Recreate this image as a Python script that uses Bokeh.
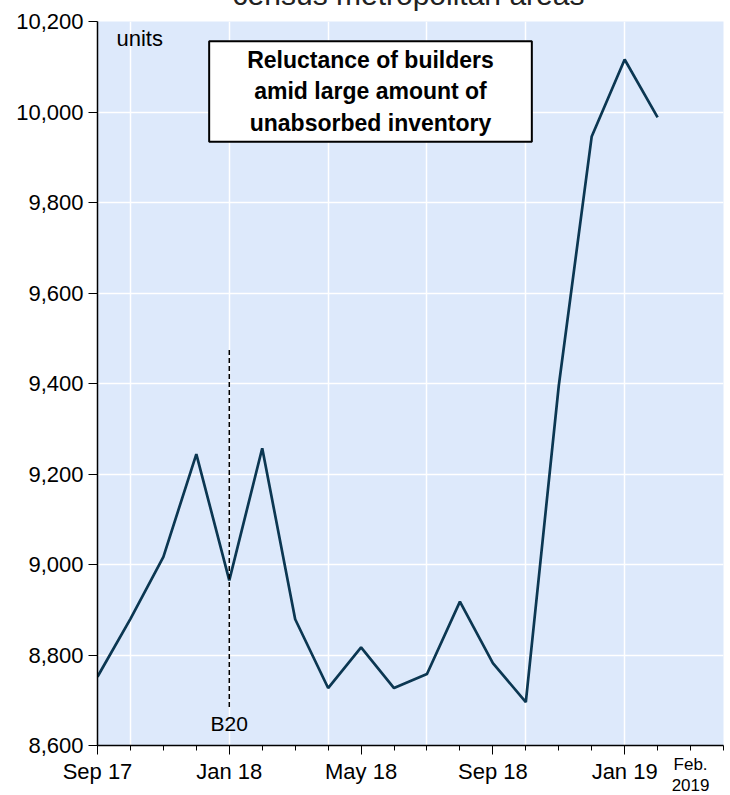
from bokeh.plotting import figure
from bokeh.models import (FixedTicker, NumeralTickFormatter, Label, Range1d)
from bokeh.embed import file_html
from bokeh.resources import INLINE

# ---- data ----
months = ["Sep 17", "Oct 17", "Nov 17", "Dec 17", "Jan 18", "Feb 18", "Mar 18",
          "Apr 18", "May 18", "Jun 18", "Jul 18", "Aug 18", "Sep 18", "Oct 18",
          "Nov 18", "Dec 18", "Jan 19", "Feb 19"]
units = [8752, 8880, 9017, 9244, 8965, 9257, 8879, 8727, 8817, 8727, 8758,
         8918, 8782, 8696, 9395, 9946, 10116, 9988]
tick_labels = ["Sep 17", "Jan 18", "May 18", "Sep 18", "Jan 19"]
y_ticks = [8600, 8800, 9000, 9200, 9400, 9600, 9800, 10000, 10200]
b20_month = "Jan 18"
b20_top = 9475
b20_bottom = 8685
title_text = "census metropolitan areas"
box_text = "Reluctance of builders\namid large amount of\nunabsorbed inventory"

FONT = "Liberation Sans"
x = list(range(len(months)))
n_axis_months = len(months) + 2  # axis runs to Apr 19

TOP = 100      # top border inside the canvas (holds title panel)
SHIFT = 79     # canvas shifted up so the title is cut off as in the reference
p = figure(width=730, height=TOP + 724 + 50, output_backend="svg", toolbar_location=None,
           x_range=Range1d(0, n_axis_months - 1), y_range=Range1d(y_ticks[0], y_ticks[-1]),
           min_border_left=97, min_border_right=7, min_border_top=TOP, min_border_bottom=50)
p.styles = {"margin-top": f"-{SHIFT}px"}
p.background_fill_color = "#dde9fb"
p.border_fill_color = "white"
p.outline_line_color = None

# axes
xa = p.xaxis[0]
xa.ticker = FixedTicker(ticks=[months.index(t) for t in tick_labels],
                        minor_ticks=list(range(n_axis_months)))
xa.major_label_overrides = {months.index(t): t for t in tick_labels}
xa.major_tick_out = 9
xa.major_tick_in = 0
xa.minor_tick_out = 5
xa.minor_tick_in = 0
xa.axis_line_color = "black"
xa.axis_line_width = 1.5
xa.major_tick_line_color = "black"
xa.minor_tick_line_color = "black"
xa.major_label_text_font = FONT
xa.major_label_text_font_size = "22px"
xa.major_label_text_color = "black"
xa.major_label_standoff = 4

ya = p.yaxis[0]
ya.ticker = FixedTicker(ticks=y_ticks)
ya.formatter = NumeralTickFormatter(format="0,0")
ya.major_tick_out = 9
ya.major_tick_in = 0
ya.minor_tick_line_color = None
ya.axis_line_color = "black"
ya.axis_line_width = 1.5
ya.major_tick_line_color = "black"
ya.major_label_text_font = FONT
ya.major_label_text_font_size = "22px"
ya.major_label_text_color = "black"
ya.major_label_standoff = 5

# grids
p.ygrid.grid_line_color = "white"
p.ygrid.grid_line_width = 1.5
p.xgrid.ticker = FixedTicker(ticks=list(range(1, n_axis_months, 3)))
p.xgrid.grid_line_color = "white"
p.xgrid.grid_line_width = 1.5

# series
p.line(x, units, line_color="#0b3752", line_width=2.7)

# B20 dashed marker
bx = months.index(b20_month)
p.segment(x0=[bx], y0=[b20_bottom], x1=[bx], y1=[b20_top],
          line_color="black", line_width=1.5, line_dash="5 3")
p.add_layout(Label(x=bx, y=y_ticks[0], text="B20", y_offset=22,
                   text_align="center", text_baseline="middle",
                   text_font=FONT, text_font_size="21px", text_color="black"))

# title (cut off at top like the reference) - side panel so it is not frame-clipped
p.add_layout(Label(x=(n_axis_months - 1) / 2, y=y_ticks[-1], x_offset=-2, y_offset=27,
                   text=title_text, text_align="center", text_baseline="alphabetic",
                   text_font=FONT, text_font_size="30px", text_color="#222222"), "above")

# units label
p.add_layout(Label(x=0, y=y_ticks[-1], x_offset=19, y_offset=-17, text="units",
                   text_align="left", text_baseline="middle",
                   text_font=FONT, text_font_size="22px", text_color="black"))

# annotation box
p.add_layout(Label(x=0, y=y_ticks[-1], x_offset=273, y_offset=-70, text=box_text,
                   text_align="center", text_baseline="middle",
                   text_font=FONT, text_font_size="23px", text_font_style="bold",
                   text_color="black", text_line_height=1.2,
                   background_fill_color="white", border_line_color="black",
                   border_line_width=2, padding=(38, 6)))

# Feb. 2019 label below the axis (side panel so it is not frame-clipped)
p.add_layout(Label(x=len(months), y=y_ticks[0], y_offset=-19, text="Feb.",
                   text_align="center", text_baseline="middle",
                   text_font=FONT, text_font_size="17px", text_color="black"), "above")
p.add_layout(Label(x=len(months), y=y_ticks[0], y_offset=-39, text="2019",
                   text_align="center", text_baseline="middle",
                   text_font=FONT, text_font_size="17px", text_color="black"), "above")

open("out.html", "w").write(file_html(p, INLINE))
